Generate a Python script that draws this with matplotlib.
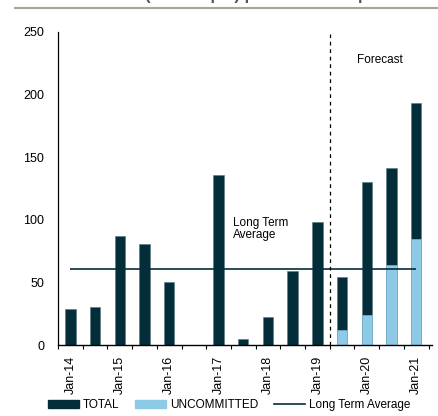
import matplotlib
matplotlib.use("Agg")
import matplotlib.pyplot as plt
from matplotlib.patches import Patch
from matplotlib.lines import Line2D

# six-month periods Jan-14 .. Jan-21
periods = ["Jan-14", "Jul-14", "Jan-15", "Jul-15", "Jan-16", "Jul-16", "Jan-17", "Jul-17",
           "Jan-18", "Jul-18", "Jan-19", "Jul-19", "Jan-20", "Jul-20", "Jan-21"]
total = [29, 30, 87, 81, 50, 0, 136, 5, 22, 59, 98, 54, 130, 141, 193]
uncommitted = [0, 0, 0, 0, 0, 0, 0, 0, 0, 0, 0, 12, 24, 64, 85]
long_term_avg = 61

dark = "#032d38"
light = "#8ecae6"

plt.rcParams["font.family"] = "Liberation Sans"
plt.rcParams["font.size"] = 8.5

fig = plt.figure(figsize=(4.39, 4.16), dpi=100)
ax = fig.add_axes([58 / 439, 71 / 416, (432 - 58) / 439, (345 - 32) / 416])

x = list(range(len(periods)))
ax.bar(x, total, width=0.42, color=dark, edgecolor="#5f7f88", linewidth=0.5)
ax.bar(x, uncommitted, width=0.42, color=light, edgecolor="#78b4cf", linewidth=0.5)
ax.hlines(long_term_avg, 0, 14, color=dark, linewidth=1.2)
ax.axvline(10.5, ymin=0, ymax=0.995, color="black", linestyle=(0, (3, 3)), linewidth=0.9)

ax.text(6.6, 93, "Long Term\nAverage", ha="left", va="center", fontsize=8.5, linespacing=1.0)
ax.text(11.6, 228, "Forecast", ha="left", va="center", fontsize=8.5)

ax.set_xlim(-0.5, 14.64)
ax.set_ylim(0, 250)
ax.set_yticks([0, 50, 100, 150, 200, 250])
ax.tick_params(axis="y", length=0, pad=10, labelsize=9)

ax.set_xticks(x[::2])
ax.set_xticklabels(periods[::2], rotation=90)
ax.set_xticks([i - 0.5 for i in range(16)], minor=True)
ax.tick_params(axis="x", which="major", length=0, pad=8, labelsize=9)
ax.tick_params(axis="x", which="minor", length=3, direction="out", width=0.8)

for s in ["top", "right"]:
    ax.spines[s].set_visible(False)
ax.spines["left"].set_linewidth(0.9)
ax.spines["bottom"].set_linewidth(1.0)

handles = [Patch(color=dark), Patch(color=light), Line2D([0], [0], color=dark, linewidth=1.2)]
fig.legend(handles, ["TOTAL", "UNCOMMITTED", "Long Term Average"], loc="center",
           bbox_to_anchor=(0.522, 0.026), ncol=3, frameon=False, fontsize=8.5,
           handlelength=2.6, handleheight=0.6, columnspacing=1.4, handletextpad=0.3)

# clipped header and rule at the top
fig.text(0.12, 1.012, "CBD Office (000's sq m) per six month period", fontsize=12,
         fontweight="bold", color="#555555", va="center", ha="left")
fig.add_artist(Line2D([15 / 439, 1.0], [1 - 8 / 416, 1 - 8 / 416], color="#a8a49c", linewidth=1.5))

fig.savefig("out.png", dpi=100)
